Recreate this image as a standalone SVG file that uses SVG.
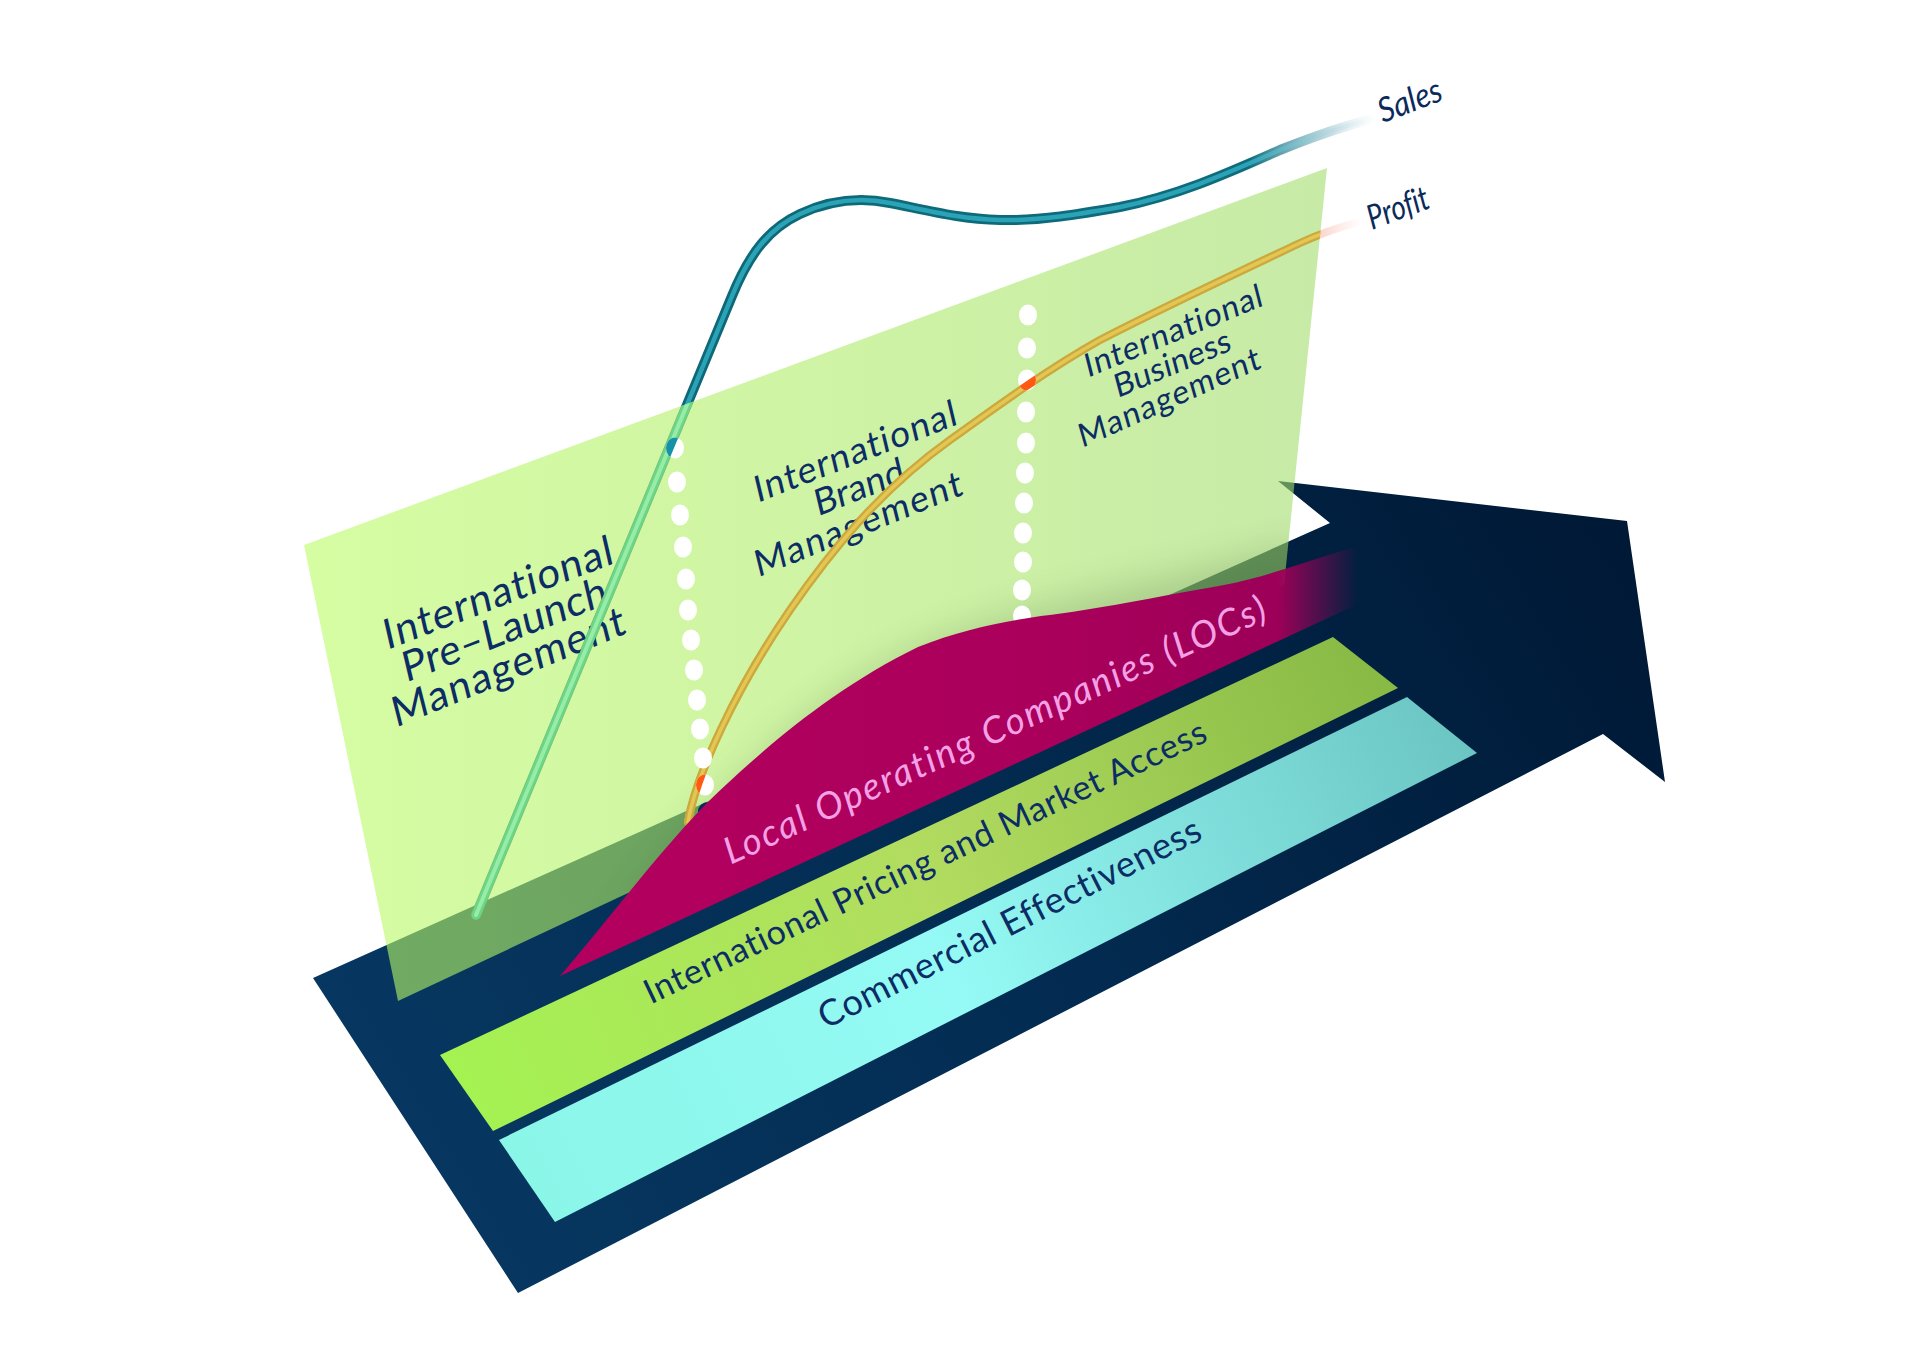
<svg xmlns="http://www.w3.org/2000/svg" width="1920" height="1358" viewBox="0 0 1920 1358">
<style>
  .lbl { font-family: Lato, "Open Sans", "Liberation Sans", sans-serif; fill: #0b2c64; font-variant-ligatures: none; font-feature-settings: "liga" 0, "clig" 0; }
  .plane-t { font-size: 41px; text-anchor: middle; }
  .mid-t { font-size: 36px; text-anchor: middle; }
  .right-t { font-size: 32px; text-anchor: middle; }
  .band-t { text-anchor: middle; }
  .loc-t { font-style: italic; fill: #f4a0e6; }
  .curve-lbl { font-style: italic; font-size: 34px; fill: #0b2a5a; }
  .dot { fill: #ffffff; }
</style>
<defs>
  <linearGradient id="navyGrad" gradientUnits="userSpaceOnUse" x1="420" y1="1250" x2="1600" y2="520">
    <stop offset="0" stop-color="#073862"/>
    <stop offset="0.5" stop-color="#032b51"/>
    <stop offset="1" stop-color="#001936"/>
  </linearGradient>
  <linearGradient id="planeGrad" gradientUnits="userSpaceOnUse" x1="304" y1="0" x2="1327" y2="0">
    <stop offset="0" stop-color="#bafc64"/>
    <stop offset="1" stop-color="#a2dc6c"/>
  </linearGradient>
  <linearGradient id="greenBandGrad" gradientUnits="userSpaceOnUse" x1="460" y1="1100" x2="1400" y2="660">
    <stop offset="0" stop-color="#a4f252"/>
    <stop offset="0.5" stop-color="#b2dc60"/>
    <stop offset="1" stop-color="#86b844"/>
  </linearGradient>
  <linearGradient id="cyanBandGrad" gradientUnits="userSpaceOnUse" x1="520" y1="1180" x2="1470" y2="720">
    <stop offset="0" stop-color="#8af6e8"/>
    <stop offset="0.45" stop-color="#95faf5"/>
    <stop offset="1" stop-color="#6ac4c2"/>
  </linearGradient>
  <linearGradient id="pinkGrad" gradientUnits="userSpaceOnUse" x1="560" y1="0" x2="1358" y2="0">
    <stop offset="0" stop-color="#b4005f"/>
    <stop offset="0.6" stop-color="#aa005c"/>
    <stop offset="0.9" stop-color="#9c0058"/>
    <stop offset="1" stop-color="#9c0058" stop-opacity="0"/>
  </linearGradient>
  <linearGradient id="salesOuter" gradientUnits="userSpaceOnUse" x1="476" y1="0" x2="1375" y2="0">
    <stop offset="0" stop-color="#0d6676"/>
    <stop offset="0.86" stop-color="#0f6c7c"/>
    <stop offset="0.95" stop-color="#9cc6cf" stop-opacity="0.6"/>
    <stop offset="1" stop-color="#d8e8ec" stop-opacity="0"/>
  </linearGradient>
  <linearGradient id="salesInner" gradientUnits="userSpaceOnUse" x1="476" y1="0" x2="1375" y2="0">
    <stop offset="0" stop-color="#2ba3b6"/>
    <stop offset="0.86" stop-color="#2ba3b6"/>
    <stop offset="0.95" stop-color="#b4d8e0" stop-opacity="0.6"/>
    <stop offset="1" stop-color="#e0f0f4" stop-opacity="0"/>
  </linearGradient>
  <linearGradient id="profitGrad" gradientUnits="userSpaceOnUse" x1="688" y1="0" x2="1362" y2="0">
    <stop offset="0" stop-color="#ff6420"/>
    <stop offset="0.9" stop-color="#f57a5a" stop-opacity="0.6"/>
    <stop offset="1" stop-color="#f8b0a0" stop-opacity="0"/>
  </linearGradient>
  <filter id="blur" x="-20%" y="-20%" width="140%" height="140%">
    <feGaussianBlur stdDeviation="18"/>
  </filter>
  <clipPath id="planeClip"><polygon points="304,545 1327,168 1284,585 398,1001"/></clipPath>
  <clipPath id="dotA"><ellipse cx="675" cy="448" rx="9" ry="10.5"/></clipPath>
  <clipPath id="dotB"><ellipse cx="1027" cy="380" rx="9" ry="10.5"/></clipPath>
  <clipPath id="dotC"><ellipse cx="705" cy="785" rx="9" ry="10.5"/></clipPath>
  <path id="salesPath" d="M476,915 L732,296 C750,252 770,228 800,214 C830,200 860,197 890,203 C930,211 960,219 1000,220 C1040,221 1080,214 1120,207 C1180,195 1230,172 1280,150 C1310,138 1340,127 1372,119" fill="none" stroke-linecap="round"/>
  <path id="profitPath" d="M688,822 C696,775 735,690 790,610 C830,552 880,490 950,440 C1000,404 1050,368 1100,340 C1150,314 1230,276 1300,243 C1320,233.5 1340,227 1362,221" fill="none" stroke-linecap="round"/>
</defs>

<rect x="0" y="0" width="1920" height="1358" fill="#ffffff"/>

<!-- Big navy arrow (floor) -->
<g id="arrow">
  <polygon points="313,978 1330,523 1278,481 1627,521 1665,782 1603,734 518,1293" fill="url(#navyGrad)"/>
</g>

<!-- Curves behind the plane -->
<g id="connectors">
  <g id="sales-curve">
    <use href="#salesPath" stroke="url(#salesOuter)" stroke-width="10"/>
    <use href="#salesPath" stroke="url(#salesInner)" stroke-width="4.5"/>
  </g>
  <g id="profit-curve">
    <use href="#profitPath" stroke="url(#profitGrad)" stroke-width="8"/>
  </g>
</g>

<!-- Translucent vertical plane -->
<g id="plane">
  <polygon points="304,545 1327,168 1284,585 398,1001" fill="url(#planeGrad)" fill-opacity="0.6"/>
  <g clip-path="url(#planeClip)">
    <path d="M600,950 C680,830 790,715 905,655 C1010,605 1150,585 1300,545 L1300,640 L600,1000 Z" fill="#3f5f2c" opacity="0.22" filter="url(#blur)"/>
  </g>
</g>

<!-- Plane labels -->
<g id="node-prelaunch" class="lbl plane-t">
  <text transform="translate(501,606.5) rotate(-20.9) skewX(-8)" textLength="244">International</text>
  <text transform="translate(507.5,643) rotate(-21.3) skewX(-8)" textLength="218">Pre–Launch</text>
  <text transform="translate(511.5,680.5) rotate(-22.2) skewX(-8)" textLength="250">Management</text>
</g>
<g id="node-brand" class="lbl mid-t">
  <text transform="translate(858,463.5) rotate(-21.4) skewX(-8)" textLength="216">International</text>
  <text transform="translate(862,499) rotate(-21.5) skewX(-8)" textLength="95">Brand</text>
  <text transform="translate(861,536) rotate(-22) skewX(-8)" textLength="222">Management</text>
</g>
<g id="node-business" class="lbl right-t">
  <text transform="translate(1176,341.5) rotate(-22.3) skewX(-8)" textLength="191">International</text>
  <text transform="translate(1175,374) rotate(-22.8) skewX(-8)" textLength="125">Business</text>
  <text transform="translate(1172,408) rotate(-24) skewX(-8)" textLength="197">Management</text>
</g>

<!-- Curve parts seen through the plane -->
<g id="curves-in-plane" clip-path="url(#planeClip)">
  <use href="#salesPath" stroke="#6dd488" stroke-width="9"/>
  <use href="#salesPath" stroke="#95eda6" stroke-width="4"/>
  <use href="#profitPath" stroke="#cca93c" stroke-width="8"/>
  <use href="#profitPath" stroke="#e4c655" stroke-width="3.5"/>
</g>

<!-- Dotted separators -->
<g id="separator-1">
  <ellipse class="dot" cx="675" cy="448" rx="9" ry="10.5"/>
  <ellipse class="dot" cx="677" cy="482" rx="9" ry="10.5"/>
  <ellipse class="dot" cx="680" cy="515" rx="9" ry="10.5"/>
  <ellipse class="dot" cx="683" cy="547" rx="9" ry="10.5"/>
  <ellipse class="dot" cx="686" cy="579" rx="9" ry="10.5"/>
  <ellipse class="dot" cx="688" cy="610" rx="9" ry="10.5"/>
  <ellipse class="dot" cx="691" cy="640" rx="9" ry="10.5"/>
  <ellipse class="dot" cx="694" cy="670" rx="9" ry="10.5"/>
  <ellipse class="dot" cx="697" cy="700" rx="9" ry="10.5"/>
  <ellipse class="dot" cx="700" cy="729" rx="9" ry="10.5"/>
  <ellipse class="dot" cx="703" cy="758" rx="9" ry="10.5"/>
  <ellipse class="dot" cx="705" cy="785" rx="9" ry="10.5"/>
</g>
<g id="separator-2">
  <ellipse class="dot" cx="1028" cy="315" rx="9" ry="10.5"/>
  <ellipse class="dot" cx="1027" cy="348" rx="9" ry="10.5"/>
  <ellipse class="dot" cx="1027" cy="380" rx="9" ry="10.5"/>
  <ellipse class="dot" cx="1026" cy="412" rx="9" ry="10.5"/>
  <ellipse class="dot" cx="1026" cy="443" rx="9" ry="10.5"/>
  <ellipse class="dot" cx="1025" cy="473" rx="9" ry="10.5"/>
  <ellipse class="dot" cx="1024" cy="503" rx="9" ry="10.5"/>
  <ellipse class="dot" cx="1023" cy="533" rx="9" ry="10.5"/>
  <ellipse class="dot" cx="1023" cy="562" rx="9" ry="10.5"/>
  <ellipse class="dot" cx="1022" cy="590" rx="9" ry="10.5"/>
  <ellipse class="dot" cx="1022" cy="616" rx="9" ry="10.5"/>
</g>
<g id="curve-crossings">
  <use href="#salesPath" stroke="#1592a8" stroke-width="9" clip-path="url(#dotA)"/>
  <use href="#profitPath" stroke="#ff5a12" stroke-width="8" clip-path="url(#dotB)"/>
  <use href="#profitPath" stroke="#ff5a12" stroke-width="8" clip-path="url(#dotC)"/>
</g>

<!-- Floor bands -->
<g id="node-pricing">
  <polygon points="440,1055 1333,637 1398,688 493,1131" fill="url(#greenBandGrad)"/>
</g>
<g id="node-commercial">
  <polygon points="499,1140 1407,697 1477,753 555,1222" fill="url(#cyanBandGrad)"/>
</g>

<!-- Profit curve base -->
<ellipse cx="708" cy="811" rx="10" ry="9" fill="#0a2a5a"/>

<!-- LOC shape -->
<g id="node-locs">
  <path d="M560,976 C610,918 660,850 710,800 C760,752 830,690 918,647 C960,630 1000,622 1041,616 C1100,609 1150,598 1224,585 C1270,576 1310,560 1358,546 L1358,604 Z" fill="url(#pinkGrad)"/>
  <text class="lbl band-t loc-t" font-size="37" transform="translate(1000,741.5) rotate(-24.6)" textLength="592">Local Operating Companies (LOCs)</text>
</g>

<g id="band-labels">
  <text class="lbl band-t" font-size="34" transform="translate(930,872.5) rotate(-25.3)" textLength="618">International Pricing and Market Access</text>
  <text class="lbl band-t" font-size="36" transform="translate(1015,934) rotate(-26.8)" textLength="424">Commercial Effectiveness</text>
</g>

<g id="curve-labels">
  <text class="lbl curve-lbl" transform="translate(1383,123) rotate(-20.7)" textLength="66" lengthAdjust="spacingAndGlyphs">Sales</text>
  <text class="lbl curve-lbl" transform="translate(1372,230) rotate(-20.7)" textLength="64" lengthAdjust="spacingAndGlyphs">Profit</text>
</g>
</svg>
